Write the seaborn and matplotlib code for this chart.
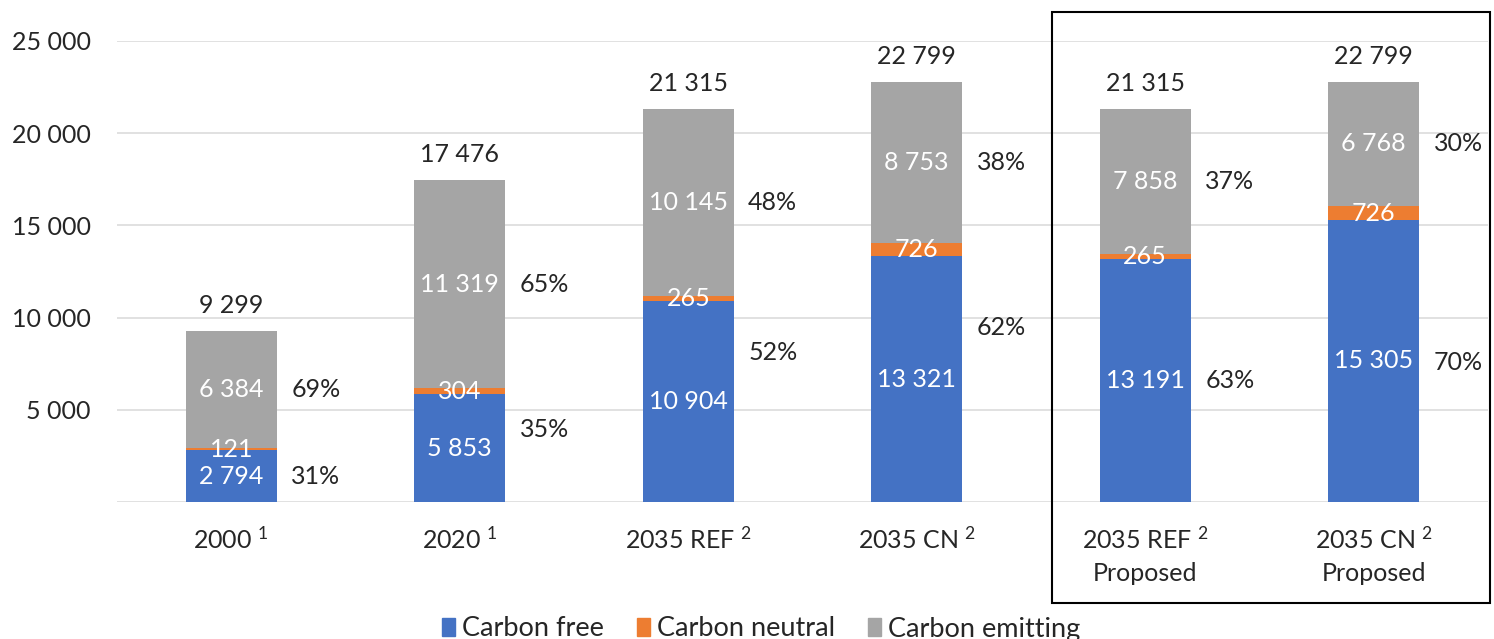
import pandas as pd
import matplotlib.pyplot as plt
import seaborn as sns
from matplotlib.patches import Patch, Rectangle

# values
scenarios = ["2000 $^1$", "2020 $^1$", "2035 REF $^2$", "2035 CN $^2$",
             "2035 REF $^2$\nProposed", "2035 CN $^2$\nProposed"]
carbon_free = [2794, 5853, 10904, 13321, 13191, 15305]
carbon_neutral = [121, 304, 265, 726, 265, 726]
carbon_emitting = [6384, 11319, 10145, 8753, 7858, 6768]
totals = [9299, 17476, 21315, 22799, 21315, 22799]
share_low = ["31%", "35%", "52%", "62%", "63%", "70%"]
share_emitting = ["69%", "65%", "48%", "38%", "37%", "30%"]
share_low_at = [1356, 3905, 8134, 9490, 6616, 7592]  # label heights as placed in the original
yticks = [0, 5000, 10000, 15000, 20000, 25000]
ytick_labels = ["", "5 000", "10 000", "15 000", "20 000", "25 000"]

df = pd.DataFrame({"scenario": scenarios, "free": carbon_free,
                   "neutral": carbon_neutral, "emitting": carbon_emitting})
df["base_neutral"] = df["free"]
df["base_emitting"] = df["free"] + df["neutral"]

blue, orange, grey = "#4472C4", "#ED7D31", "#A5A5A5"

sns.set_style("white")
plt.rcParams["font.family"] = ["Lato", "DejaVu Sans"]
plt.rcParams["font.size"] = 18
plt.rcParams["mathtext.fontset"] = "custom"
plt.rcParams["mathtext.rm"] = "Lato"
plt.rcParams["mathtext.it"] = "Lato"
plt.rcParams["mathtext.default"] = "rm"

fig = plt.figure(figsize=(14.94, 6.39), dpi=100)
W, H = 1494, 639
ax = fig.add_axes([117 / W, 1 - 502 / H, 1371 / W, 461 / H])

sns.barplot(data=df, x="scenario", y="free", color=blue, width=0.4,
            saturation=1, linewidth=0, ax=ax)
sns.barplot(data=df, x="scenario", y="neutral", bottom=df["base_neutral"],
            color=orange, width=0.4, saturation=1, linewidth=0, ax=ax)
sns.barplot(data=df, x="scenario", y="emitting", bottom=df["base_emitting"],
            color=grey, width=0.4, saturation=1, linewidth=0, ax=ax)

fmt = lambda v: f"{v:,}".replace(",", " ")

for i in range(len(scenarios)):
    f, n, e = carbon_free[i], carbon_neutral[i], carbon_emitting[i]
    ax.text(i, f / 2, fmt(f), color="white", ha="center", va="center")
    ax.text(i, f + n / 2, fmt(n), color="white", ha="center", va="center")
    ax.text(i, f + n + e / 2, fmt(e), color="white", ha="center", va="center")
    ax.annotate(fmt(totals[i]), (i, totals[i]), xytext=(0, 18),
                textcoords="offset points", ha="center", va="center")
    ax.text(i + 0.37, share_low_at[i], share_low[i], ha="center", va="center")
    ax.text(i + 0.37, f + n + e / 2, share_emitting[i], ha="center", va="center")

ax.set_ylim(0, 25000)
ax.set_yticks(yticks, ytick_labels)
ax.set_xlabel("")
ax.set_ylabel("")
ax.yaxis.grid(True, color="#D9D9D9", lw=1.1)
ax.set_axisbelow(True)
for s in ax.spines.values():
    s.set_visible(False)
ax.tick_params(axis="y", length=0, pad=19)
ax.tick_params(axis="x", length=0, pad=17)
for lab in ax.get_xticklabels():
    lab.set_linespacing(1.5)

# frame around the proposed scenarios
fig.patches.append(Rectangle((1052 / W, 1 - 603 / H), 438 / W, 591 / H,
                             transform=fig.transFigure, fill=False,
                             edgecolor="black", lw=1.5))

handles = [Patch(color=blue), Patch(color=orange), Patch(color=grey)]
fig.legend(handles, ["Carbon free", "Carbon neutral", "Carbon emitting"],
           loc="center", bbox_to_anchor=(761 / W, 1 - 629 / H), ncol=3,
           frameon=False, handlelength=0.5, handleheight=0.6,
           handletextpad=0.25, columnspacing=1.2, fontsize=19.5)

plt.savefig("out.png", dpi=100)
